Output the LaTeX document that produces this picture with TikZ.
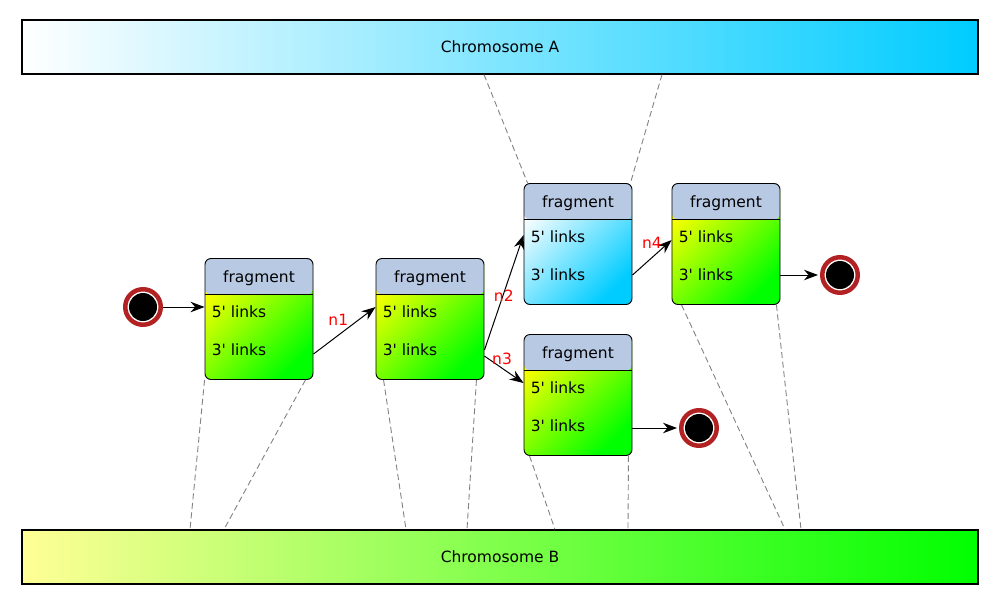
\documentclass[tikz,border=0pt]{standalone}
\usepackage{fontspec}
\setmainfont{DejaVu Sans}
\usetikzlibrary{positioning}
\usetikzlibrary{calc}
\usetikzlibrary{arrows.meta}
\definecolor{head-blue}{RGB}{184,201,228}
\definecolor{chr-cyan}{RGB}{0,204,255}
\definecolor{chr-yellow}{RGB}{255,255,150}
\definecolor{term-red}{RGB}{178,34,34}
\definecolor{dash-grey}{RGB}{130,130,130}

\tikzset{
  chrom/.style={draw, line width=1.2pt, minimum width=956pt, minimum height=54pt, inner sep=0pt},
  frag/.style={draw, line width=0.9pt, rounded corners=6pt, minimum width=108pt, minimum height=121pt, inner sep=0pt,
    path picture={
      \fill[head-blue] (path picture bounding box.north west) rectangle ([yshift=-36pt]path picture bounding box.north east);
      \draw[line width=0.9pt] ([yshift=-36pt]path picture bounding box.north west) -- ([yshift=-36pt]path picture bounding box.north east);}},
  greenbody/.style={top color=yellow, bottom color=green, shading angle=45},
  bluebody/.style={top color=white, bottom color=chr-cyan, shading angle=45},
  linktext/.style={anchor=west, inner sep=0pt},
  terminal/.style={circle, draw=term-red, line width=4.5pt, fill=white, minimum size=35.5pt, inner sep=0pt,
    path picture={\fill[black] (path picture bounding box.center) circle (14pt);}},
  flow/.style={-{Stealth[length=14pt,width=10.5pt]}, line width=1pt},
  edgelbl/.style={text=red, inner sep=1pt},
  tie/.style={dash-grey, dashed, dash pattern=on 6pt off 3.5pt, line width=0.9pt}
}

% one fragment: name, x, y, body shading
\newcommand{\fragment}[4]{%
  \node[frag, #4] (#1) at (#2,#3) {};
  \node (#1-t) at ([yshift=-20pt]#1.north) {fragment};
  \node[linktext] (#1-5) at ([xshift=7pt,yshift=-54pt]#1.north west) {5\textquotesingle{} links};
  \node[linktext] (#1-3) at ([xshift=7pt,yshift=-92pt]#1.north west) {3\textquotesingle{} links};
}

\begin{document}
\begin{tikzpicture}[x=1pt, y=-1pt, font=\fontsize{15.5}{18}\selectfont]
\useasboundingbox (0,0) rectangle (1000,605);

\node[chrom, left color=white, right color=chr-cyan] (chrA) at (500,47) {Chromosome A};
\node[chrom, left color=chr-yellow, right color=green] (chrB) at (500,557) {Chromosome B};

\fragment{f1}{259}{319}{greenbody}
\fragment{f2}{430}{319}{greenbody}
\fragment{f3}{578}{244}{bluebody}
\fragment{f4}{726}{244}{greenbody}
\fragment{f5}{578}{395}{greenbody}

\node[terminal] (start) at (143,307) {};
\node[terminal] (endA) at (840,275) {};
\node[terminal] (endB) at (699,428) {};

% links between fragments
\draw[flow] (start) -- (f1.west |- start);
\draw[flow] ([yshift=-4pt]f1.east |- f1-3) -- node[edgelbl, pos=0.4, above=8pt] {n1} ([yshift=5pt]f2.west |- f2-5);
\draw[flow] (f2.east |- f2-3) -- node[edgelbl, pos=0.47, xshift=1pt] {n2} ([yshift=2pt]f3.west |- f3-5);
\draw[flow] ([yshift=-6pt]f2.east |- f2-3) -- node[edgelbl, pos=0.45, above=2pt] {n3} ([yshift=5pt]f5.west |- f5-5);
\draw[flow] (f3.east |- f3-3) -- node[edgelbl, pos=0.5, above=8pt] {n4} ([yshift=-3pt]f4.west |- f4-5);
\draw[flow] (f4.east |- endA) -- ([xshift=-2pt]endA.west);
\draw[flow] (f5.east |- endB) -- ([xshift=-2pt]endB.west);

% placement on the chromosomes
\draw[tie] ([xshift=-16pt]chrA.south) -- ([xshift=4pt]f3.north west);
\draw[tie] ([xshift=162pt]chrA.south) -- ([xshift=-2pt]f3.north east);
\draw[tie] (f1.south west) -- ([xshift=-310pt]chrB.north);
\draw[tie] ([xshift=-8pt]f1.south east) -- ([xshift=-276pt]chrB.north);
\draw[tie] ([xshift=8pt]f2.south west) -- ([xshift=-94pt]chrB.north);
\draw[tie] ([xshift=-8pt]f2.south east) -- ([xshift=-33pt]chrB.north);
\draw[tie] ([xshift=6pt]f5.south west) -- ([xshift=55pt]chrB.north);
\draw[tie] ([xshift=-4pt]f5.south east) -- ([xshift=128pt]chrB.north);
\draw[tie] ([xshift=10pt]f4.south west) -- ([xshift=285pt]chrB.north);
\draw[tie] ([xshift=-4pt]f4.south east) -- ([xshift=301pt]chrB.north);
\end{tikzpicture}
\end{document}
